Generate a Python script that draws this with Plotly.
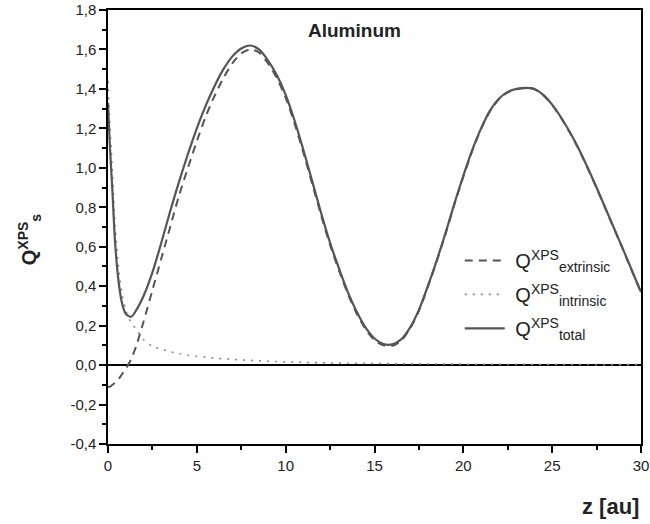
import plotly.graph_objects as go

z = [0, 0.1, 0.25, 0.4, 0.6, 0.8, 1.0, 1.3, 1.6, 2.0, 2.5, 3.0, 3.5, 4.0, 4.5, 5.0,
     5.5, 6.0, 6.5, 7.0, 7.5, 8.0, 8.5, 9.0, 9.5, 10.0, 10.5, 11.0, 11.5, 12.0,
     12.5, 13.0, 13.5, 14.0, 14.5, 15.0, 15.5, 16.0, 16.5, 17.0, 17.5, 18.0, 18.5,
     19.0, 19.5, 20.0, 20.5, 21.0, 21.5, 22.0, 22.5, 23.0, 23.5, 24.0, 24.5, 25.0,
     25.5, 26.0, 26.5, 27.0, 27.5, 28.0, 28.5, 29.0, 29.5, 30.0]

q_total = [1.33, 1.12, 0.88, 0.62, 0.42, 0.31, 0.26, 0.245, 0.28, 0.35, 0.47, 0.62,
           0.78, 0.93, 1.07, 1.20, 1.315, 1.415, 1.50, 1.565, 1.605, 1.62, 1.60, 1.545,
           1.47, 1.37, 1.24, 1.09, 0.93, 0.77, 0.62, 0.49, 0.37, 0.27, 0.19, 0.135,
           0.107, 0.105, 0.13, 0.19, 0.28, 0.40, 0.53, 0.67, 0.82, 0.96, 1.09, 1.20,
           1.29, 1.35, 1.385, 1.40, 1.405, 1.40, 1.37, 1.32, 1.255, 1.18, 1.095, 1.00,
           0.90, 0.795, 0.69, 0.585, 0.477, 0.37]

q_extrinsic = [-0.11, -0.11, -0.10, -0.09, -0.07, -0.045, -0.02, 0.03, 0.10, 0.22,
               0.38, 0.54, 0.70, 0.86, 1.00, 1.135, 1.26, 1.365, 1.455, 1.53, 1.58,
               1.60, 1.585, 1.53, 1.455, 1.355, 1.225, 1.076, 0.917, 0.758, 0.609,
               0.48, 0.361, 0.261, 0.182, 0.127, 0.10, 0.098, 0.124, 0.185, 0.275,
               0.395, 0.525, 0.665, 0.815, 0.955, 1.086, 1.197, 1.287, 1.347, 1.382,
               1.398, 1.403, 1.398, 1.368, 1.318, 1.253, 1.178, 1.093, 0.998, 0.898,
               0.793, 0.688, 0.583, 0.475, 0.368]

q_intrinsic = [1.44, 1.23, 0.98, 0.71, 0.49, 0.355, 0.28, 0.215, 0.18, 0.13, 0.095,
               0.08, 0.068, 0.058, 0.05, 0.044, 0.04, 0.035, 0.032, 0.029, 0.026,
               0.024, 0.022, 0.02, 0.018, 0.016, 0.015, 0.014, 0.013, 0.012, 0.011,
               0.010, 0.0095, 0.009, 0.0085, 0.008, 0.0076, 0.0072, 0.0068, 0.0064,
               0.006, 0.0057, 0.0054, 0.0051, 0.0048, 0.0046, 0.0044, 0.0042, 0.004,
               0.0038, 0.0036, 0.0035, 0.0034, 0.0033, 0.0032, 0.0031, 0.003, 0.0029,
               0.0028, 0.0027, 0.0026, 0.0025, 0.0024, 0.0023, 0.0022, 0.0021]

y_tickvals = [-0.4, -0.2, 0.0, 0.2, 0.4, 0.6, 0.8, 1.0, 1.2, 1.4, 1.6, 1.8]
y_ticktext = ["-0,4", "-0,2", "0,0", "0,2", "0,4", "0,6", "0,8", "1,0", "1,2",
              "1,4", "1,6", "1,8"]
x_tickvals = [0, 5, 10, 15, 20, 25, 30]
x_ticktext = ["0", "5", "10", "15", "20", "25", "30"]

FONT = "Liberation Sans, Arial, sans-serif"

fig = go.Figure()
fig.add_trace(go.Scatter(
    x=z, y=q_extrinsic, mode="lines", legendgroup="a",
    name=" Q<sup>XPS</sup><sub>extrinsic</sub>",
    line=dict(color="#555555", width=2, dash="8px,6px", shape="spline", smoothing=0.8)))
fig.add_trace(go.Scatter(
    x=z, y=q_intrinsic, mode="lines", legendgroup="b",
    name=" Q<sup>XPS</sup><sub>intrinsic</sub>",
    line=dict(color="#8a8a8a", width=1.6, dash="2px,6px", shape="spline", smoothing=0.8)))
fig.add_trace(go.Scatter(
    x=z, y=q_total, mode="lines", legendgroup="c",
    name=" Q<sup>XPS</sup><sub>total</sub>",
    line=dict(color="#555555", width=2.2, shape="spline", smoothing=0.8)))

fig.update_layout(
    width=650, height=524,
    margin=dict(l=108, r=9, t=10, b=80),
    paper_bgcolor="white", plot_bgcolor="white",
    font=dict(family=FONT, size=15, color="#222222"),
    showlegend=True,
    legend=dict(x=0.66, y=0.468, xanchor="left", yanchor="top",
                bgcolor="rgba(0,0,0,0)", font=dict(size=20, color="#222222"),
                tracegroupgap=5, itemwidth=40),
    xaxis=dict(range=[0, 30], tickvals=x_tickvals, ticktext=x_ticktext,
               automargin=False,
               showgrid=False, zeroline=False, showline=True, linecolor="black",
               linewidth=1.5, mirror=True, ticks="outside", ticklen=7, tickwidth=1.5,
               tickcolor="black",
               minor=dict(ticks="outside", ticklen=4, tickwidth=1.5, dtick=2.5,
                          tickcolor="black", showgrid=False),
               tickfont=dict(size=15, color="#222222")),
    yaxis=dict(range=[-0.4, 1.8], tickvals=y_tickvals, ticktext=y_ticktext,
               automargin=False,
               showgrid=False, zeroline=True, zerolinecolor="black", zerolinewidth=1.5,
               showline=True, linecolor="black", linewidth=1.5, mirror=True,
               ticks="outside", ticklen=7, tickwidth=1.5, tickcolor="black",
               minor=dict(ticks="outside", ticklen=4, tickwidth=1.5, dtick=0.1,
                          tickcolor="black", showgrid=False),
               tickfont=dict(size=15, color="#222222")),
    annotations=[
        dict(text="<b>Aluminum</b>", x=13.9, y=1.695, xref="x", yref="y",
             showarrow=False, font=dict(size=19, color="#222222")),
        dict(text="<b>z [au]</b>", x=1.0, y=-0.145, xref="paper", yref="paper",
             xanchor="right", yanchor="middle", showarrow=False,
             font=dict(size=22, color="#222222")),
        dict(text="<b>Q<sup>XPS</sup><sub>s</sub></b>", x=-0.179, y=0.472,
             xref="paper", yref="paper", textangle=-90, showarrow=False,
             font=dict(size=20, color="#222222")),
    ],
)

fig.write_html("out.html",
               config={"displayModeBar": False},
               post_script="document.body.style.margin='0';document.body.style.overflow='hidden';")
